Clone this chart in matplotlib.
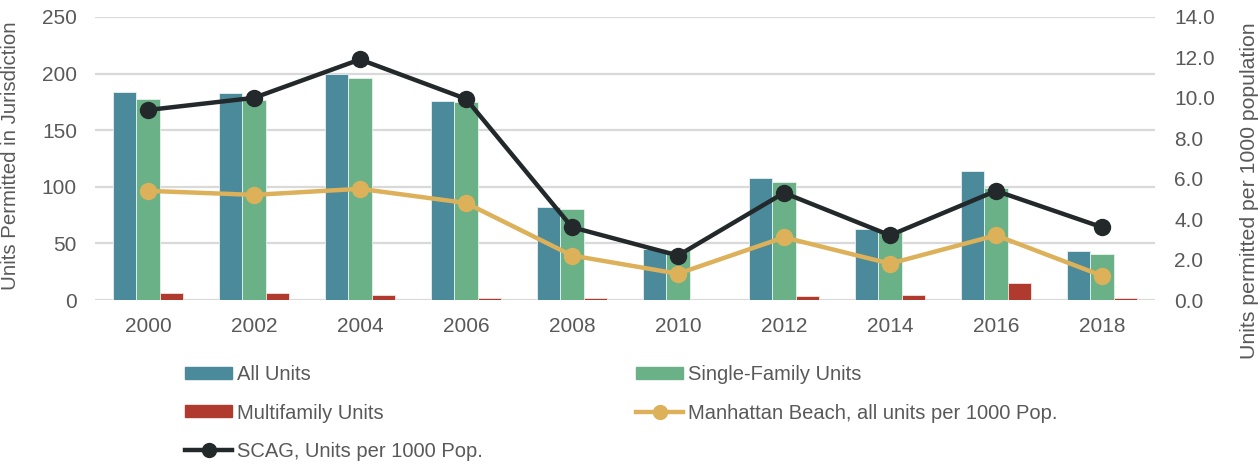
import matplotlib
matplotlib.use("Agg")
import matplotlib.pyplot as plt
from matplotlib.lines import Line2D
from matplotlib.patches import Patch
import numpy as np

# data
years = ["2000", "2002", "2004", "2006", "2008", "2010", "2012", "2014", "2016", "2018"]
all_units = [184, 183, 200, 176, 82, 45, 108, 63, 114, 43]
single_family = [178, 177, 196, 175, 80, 44, 104, 60, 99, 41]
multifamily = [6, 6, 4, 2, 1.5, 0, 3.5, 4, 15, 1.5]
mb_per_1000 = [5.4, 5.2, 5.5, 4.8, 2.2, 1.3, 3.1, 1.8, 3.2, 1.2]
scag_per_1000 = [9.4, 10.0, 11.9, 9.95, 3.6, 2.2, 5.3, 3.2, 5.4, 3.6]

C_ALL = "#4A8A9B"
C_SF = "#6AB187"
C_MF = "#B03A2E"
C_MB = "#DDB05A"
C_SCAG = "#23292B"
C_TXT = "#595959"
C_GRID = "#D9D9D9"

plt.rcParams["font.family"] = "Liberation Sans"

fig = plt.figure(figsize=(12.6, 4.65), dpi=100)
ax = fig.add_axes([95 / 1260, 1 - 300 / 465, 1060 / 1260, 283 / 465])

x = np.arange(len(years))
w = 0.222
ax.bar(x - w, all_units, w, color=C_ALL, edgecolor="#E8F0F2", linewidth=0.6, zorder=2)
ax.bar(x, single_family, w, color=C_SF, edgecolor="#E8F2EC", linewidth=0.6, zorder=2)
ax.bar(x + w, multifamily, w, color=C_MF, edgecolor="#F2E4E2", linewidth=0.6, zorder=2)

ax.set_xlim(-0.5, len(years) - 0.5)
ax.set_ylim(0, 250)
ax.set_yticks(range(0, 251, 50))
ax.set_xticks(x)
ax.set_xticklabels(years)
ax.grid(axis="y", color=C_GRID, linewidth=1.6, zorder=0)
ax.set_axisbelow(True)
for s in ax.spines.values():
    s.set_visible(False)
ax.tick_params(length=0, labelsize=15, colors=C_TXT)
ax.tick_params(axis="x", pad=12)
ax.tick_params(axis="y", pad=13)
ax.set_ylabel("Units Permitted in Jurisdiction", fontsize=14.7, color=C_TXT)
ax.yaxis.set_label_coords(-0.071, 0.51)

ax2 = ax.twinx()
ax2.plot(x, mb_per_1000, color=C_MB, linewidth=3.2, marker="o", markersize=11.5, zorder=3)
ax2.plot(x, scag_per_1000, color=C_SCAG, linewidth=3.2, marker="o", markersize=11.5, zorder=4)
ax2.set_ylim(0, 14)
ax2.set_yticks(np.arange(0, 14.1, 2))
ax2.set_yticklabels([f"{v:.1f}" for v in np.arange(0, 14.1, 2)])
for s in ax2.spines.values():
    s.set_visible(False)
ax2.tick_params(length=0, labelsize=15, colors=C_TXT, pad=14)
ax2.set_ylabel("Units permitted per 1000 population", fontsize=15.3, color=C_TXT,
               rotation=90)
ax2.yaxis.set_label_coords(1.080, 0.385)

h_all = Patch(color=C_ALL, label="All Units")
h_sf = Patch(color=C_SF, label="Single-Family Units")
h_mf = Patch(color=C_MF, label="Multifamily Units")
h_mb = Line2D([], [], color=C_MB, linewidth=3.2, marker="o", markersize=10,
              label="Manhattan Beach, all units per 1000 Pop.")
h_scag = Line2D([], [], color=C_SCAG, linewidth=3.2, marker="o", markersize=10,
                label="SCAG, Units per 1000 Pop.")

leg_kw = dict(frameon=False, handlelength=2.35, handleheight=0.55,
              handletextpad=0.25, labelspacing=0.97, borderaxespad=0, borderpad=0,
              prop={"size": 14.5})
leg1 = fig.legend(handles=[h_all, h_mf, h_scag], loc="upper left",
                  bbox_to_anchor=(185 / 1260, 1 - 365 / 465), **leg_kw)
leg2 = fig.legend(handles=[h_sf, h_mb], loc="upper left",
                  bbox_to_anchor=(636 / 1260, 1 - 365 / 465), **leg_kw)
for leg in (leg1, leg2):
    for t in leg.get_texts():
        t.set_color(C_TXT)

fig.savefig("out.png", dpi=100)
